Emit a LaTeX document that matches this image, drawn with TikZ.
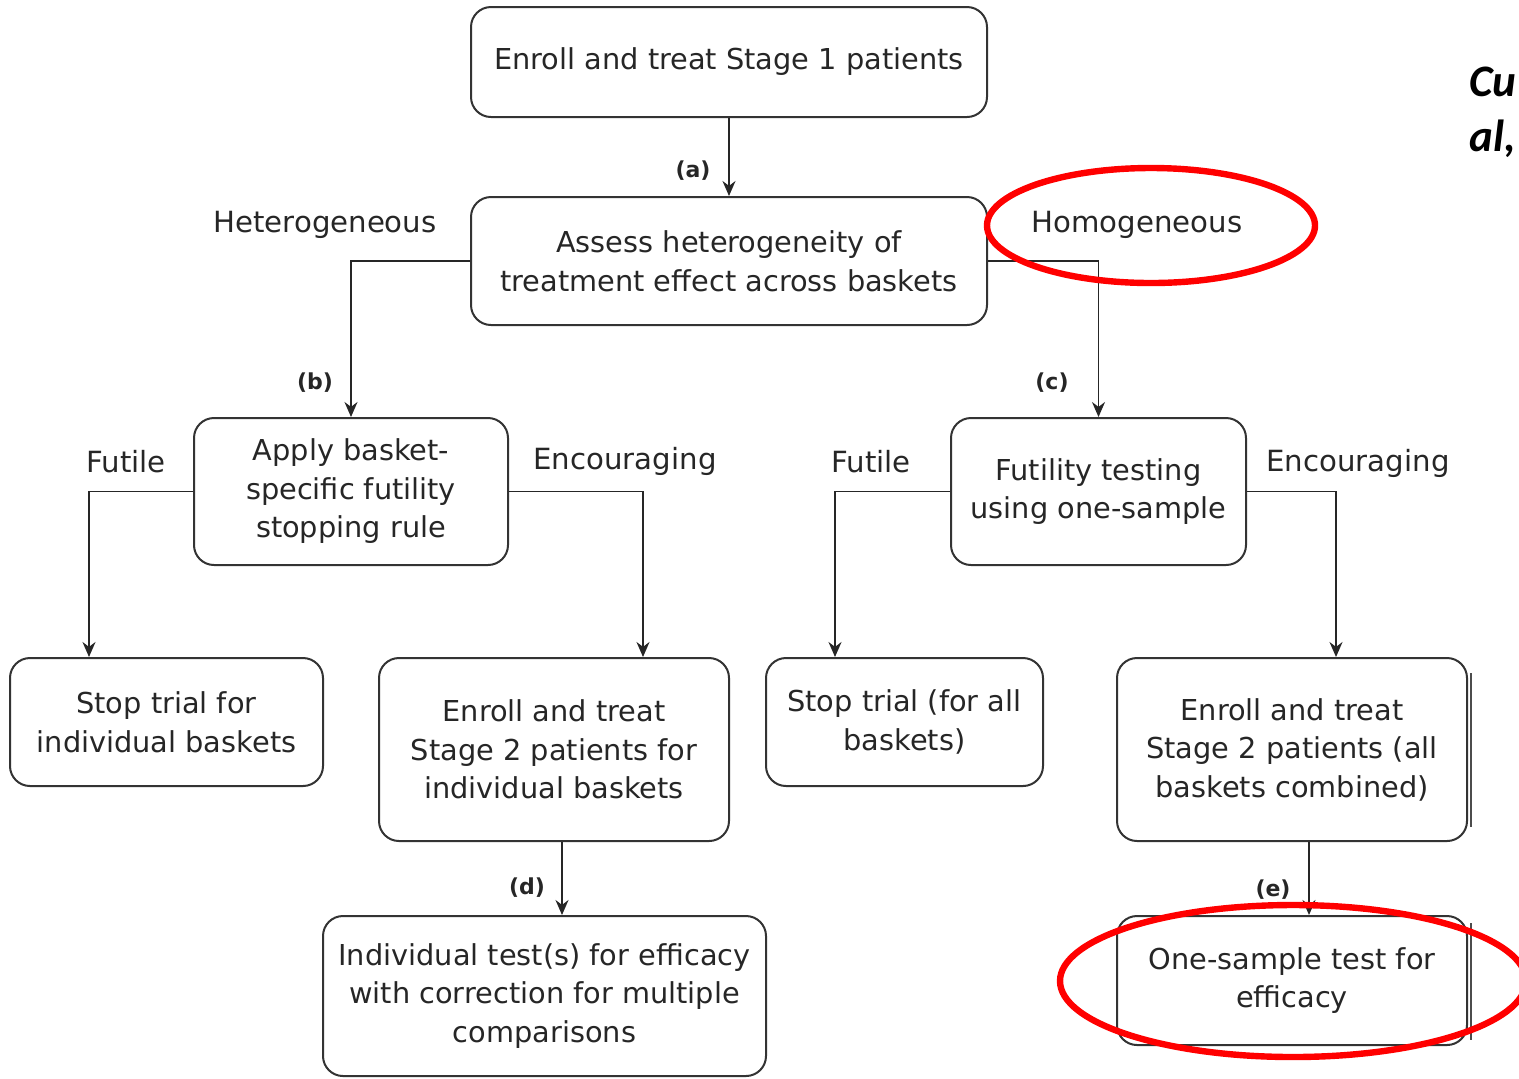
\documentclass[tikz,border=0pt]{standalone}
\usepackage{fontspec}
\setmainfont{DejaVu Sans}
\newfontfamily\calib{Carlito}
\usetikzlibrary{arrows.meta}
\begin{document}
\begin{tikzpicture}[x=0.5pt,y=-0.5pt,
  box/.style={draw=black!80, line width=1pt, rounded corners=10pt, align=center,
    font=\fontsize{14.4}{19.25}\selectfont, text=black!85, inner sep=0pt},
  lbl/.style={font=\fontsize{14.6}{18}\selectfont, text=black!85},
  tag/.style={font=\bfseries\fontsize{11}{12}\selectfont, text=black!85},
  arr/.style={draw=black!85, line width=0.8pt, -{Stealth[length=7.5pt,width=6.5pt]}},
  ring/.style={draw=red, line width=3.2pt},
  side/.style={draw=black!70, line width=1pt}]
\useasboundingbox (0,0) rectangle (1519,1078);
% boxes
\node[box, minimum width=258pt, minimum height=55pt] (A) at (729,62) {Enroll and treat Stage 1 patients};
\node[box, minimum width=258pt, minimum height=64pt] (B) at (729,261) {Assess heterogeneity of\\treatment effect across baskets};
\node[box, minimum width=157pt, minimum height=73.5pt] (C) at (351,491.5) {Apply basket-\\specific futility\\stopping rule};
\node[box, minimum width=147.5pt, minimum height=73.5pt] (D) at (1098.5,491.5) {Futility testing\\using one-sample};
\node[box, minimum width=156.5pt, minimum height=64pt] (E) at (166.5,722) {Stop trial for\\individual baskets};
\node[box, minimum width=175pt, minimum height=91.5pt] (F) at (554,749.5) {Enroll and treat\\Stage 2 patients for\\individual baskets};
\node[box, minimum width=138.5pt, minimum height=64pt] (G) at (904.5,722) {Stop trial (for all\\baskets)};
\node[box, minimum width=175pt, minimum height=91.5pt] (H) at (1292,749.5) {Enroll and treat\\Stage 2 patients (all\\baskets combined)};
\node[box, minimum width=221.5pt, minimum height=80pt] (I) at (544.5,996) {Individual test(s) for efficacy\\with correction for multiple\\comparisons};
\node[box, minimum width=175pt, minimum height=64.5pt] (J) at (1292,980.5) {One-sample test for\\efficacy};
% side strokes
\coordinate (h1) at (1471,673); \coordinate (h2) at (1471,827);
\coordinate (j1) at (1471,923); \coordinate (j2) at (1471,1040);
\draw[side] (h1) -- (h2);
\draw[side] (j1) -- (j2);
% connectors
\draw[arr] (A.south) -- (B.north);
\draw[arr] (B.west) -| (C.north);
\draw[arr] (B.east) -| (D.north);
\draw[arr] (C.west) -| ([xshift=-38.75pt]E.north);
\draw[arr] (C.east) -| ([xshift=44.5pt]F.north);
\draw[arr] (D.west) -| ([xshift=-34.75pt]G.north);
\draw[arr] (D.east) -| ([xshift=22pt]H.north);
\draw[arr] ([xshift=4pt]F.south) -- ([xshift=4pt]F.south |- I.north);
\draw[arr] ([xshift=8.5pt]H.south) -- ([xshift=8.5pt]H.south |- J.north);
% labels
\node[lbl] (lhet) at (325,225) {Heterogeneous};
\node[lbl] (lhom) at (1137,225) {Homogeneous};
\node[lbl] (lf1) at (126,462) {Futile};
\node[lbl] (le1) at (625,461) {Encouraging};
\node[lbl] (lf2) at (871,462) {Futile};
\node[lbl] (le2) at (1358,463) {Encouraging};
\node[tag] (ta) at (693,171) {(a)};
\node[tag] (tb) at (315,383) {(b)};
\node[tag] (tc) at (1052,383) {(c)};
\node[tag] (td) at (527,888) {(d)};
\node[tag] (te) at (1273,890) {(e)};
% red rings
\draw[ring] (1151,225.5) ellipse [x radius=82pt, y radius=28.75pt];
\draw[ring] (1293,981) ellipse [x radius=116.5pt, y radius=38pt];
% citation fragment
\node[anchor=base west, inner sep=0pt, font=\calib\bfseries\itshape\fontsize{22.5}{24}\selectfont] (cu) at (1469,96) {Cu};
\node[anchor=base west, inner sep=0pt, font=\calib\bfseries\itshape\fontsize{22.5}{24}\selectfont] (al) at (1469,151) {al,};
\end{tikzpicture}
\end{document}
